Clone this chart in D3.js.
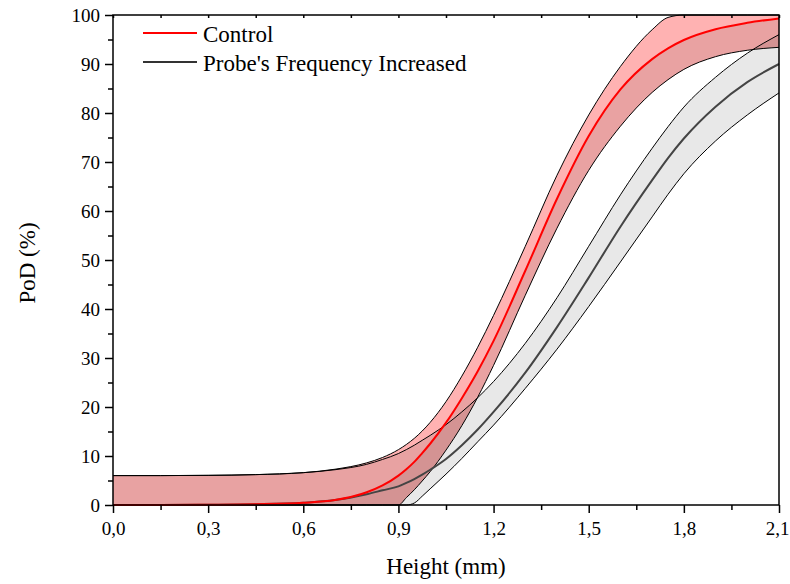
<!DOCTYPE html>
<html>
<head>
<meta charset="utf-8">
<script src="https://cdn.jsdelivr.net/npm/d3@7"></script>
<style>
  body { margin: 0; background: #fff; }
  svg text { font-family: "Liberation Serif", serif; }
</style>
</head>
<body>
<div id="chart"></div>
<script>
const FONT = "Liberation Serif";

// height grid (mm) shared by every curve
const heights = [0, 0.15, 0.3, 0.45, 0.6, 0.7, 0.8, 0.85, 0.9, 0.925, 0.95, 0.975, 1.0, 1.05, 1.1, 1.15, 1.2, 1.3, 1.4, 1.5, 1.6, 1.7, 1.75, 1.8, 1.9, 2.0, 2.1];

// Control (red)
const controlMean  = [0, 0, 0.05, 0.15, 0.45, 1.0, 2.6, 4.0, 6.0, 7.3, 8.8, 10.6, 12.5, 16.8, 21.8, 27.3, 33.5, 47.8, 62.5, 75.3, 84.8, 91.0, 93.2, 94.9, 97.1, 98.4, 99.3];
const controlUpper = [6, 6, 6.05, 6.2, 6.6, 7.3, 8.6, 9.7, 11.3, 12.35, 13.6, 15.1, 16.85, 21.1, 26.3, 32.2, 38.7, 52.8, 67.3, 79.6, 89.5, 97.0, 99.5, 100, 100, 100, 100];
const controlLower = [0, 0, 0, 0, 0, 0, 0, 0, 0, 1.5, 3.1, 4.9, 6.8, 11.2, 16.2, 22.0, 28.5, 42.8, 56.5, 68.3, 77.3, 84.2, 86.8, 88.9, 91.5, 92.8, 93.4];

// Probe's frequency increased (gray)
const probeMean  = [0, 0, 0.05, 0.15, 0.45, 1.0, 2.2, 3.0, 3.8, 4.5, 5.3, 6.2, 7.2, 9.4, 12.2, 15.4, 19.0, 27.0, 36.3, 46.4, 56.8, 66.3, 70.8, 74.8, 81.3, 86.3, 90];
const probeUpper = [6, 6, 6.05, 6.2, 6.6, 7.2, 8.3, 9.3, 10.5, 11.3, 12.2, 13.2, 14.2, 16.4, 19.0, 21.9, 25.2, 33.0, 42.3, 52.8, 63.3, 72.8, 77.2, 81.2, 87.3, 92.2, 96];
const probeLower = [0, 0, 0, 0, 0, 0, 0, 0, 0, 0, 0.4, 1.8, 3.3, 6.3, 9.5, 12.9, 16.3, 23.8, 31.8, 40.5, 49.6, 58.8, 63.4, 67.6, 74.3, 79.6, 84.1];

const xTicks = [0, 0.3, 0.6, 0.9, 1.2, 1.5, 1.8, 2.1];
const xTickLabels = ["0,0", "0,3", "0,6", "0,9", "1,2", "1,5", "1,8", "2,1"];
const yTicks = [0, 10, 20, 30, 40, 50, 60, 70, 80, 90, 100];

const width = 790, height = 584;
const margin = {top: 15, right: 11, bottom: 79, left: 113};

const x = d3.scaleLinear().domain([0, 2.1]).range([margin.left, width - margin.right]);
const y = d3.scaleLinear().domain([0, 100]).range([height - margin.bottom, margin.top]);

const svg = d3.select("#chart").append("svg")
  .attr("width", width)
  .attr("height", height)
  .attr("font-family", FONT);

const line = arr => d3.line()
  .x((d, i) => x(heights[i]))
  .y(d => y(d))
  .curve(d3.curveMonotoneX)(arr);

const band = (hi, lo) => d3.area()
  .x((d, i) => x(heights[i]))
  .y0((d, i) => y(lo[i]))
  .y1(d => y(d))
  .curve(d3.curveMonotoneX)(hi);

// fills
svg.append("path").attr("d", band(controlUpper, controlLower)).attr("fill", "rgba(255,0,0,0.3)");
svg.append("path").attr("d", band(controlMean, controlLower)).attr("fill", "rgba(0,0,0,0.085)");
svg.append("path").attr("d", band(probeUpper, probeLower)).attr("fill", "rgba(0,0,0,0.09)");

// confidence bounds
[controlUpper, controlLower, probeUpper, probeLower].forEach(arr => {
  svg.append("path")
    .attr("d", line(arr))
    .attr("fill", "none")
    .attr("stroke", "#000")
    .attr("stroke-width", 1);
});

// mean curves
svg.append("path").attr("d", line(probeMean))
  .attr("fill", "none").attr("stroke", "#444").attr("stroke-width", 2);
svg.append("path").attr("d", line(controlMean))
  .attr("fill", "none").attr("stroke", "#ff0000").attr("stroke-width", 2);

// axes
const xMinor = d3.range(0.15, 2.1, 0.3);
const yMinor = d3.range(5, 100, 10);
const plotBottom = height - margin.bottom;

const styleAxis = g => {
  g.attr("font-family", FONT);
  g.select(".domain").remove();
  g.selectAll("line").attr("stroke-width", 1.5);
  g.selectAll("text").attr("font-size", 19).attr("fill", "#000").attr("font-family", FONT);
};

svg.append("g")
  .attr("transform", `translate(0,${plotBottom})`)
  .call(d3.axisBottom(x).tickValues(xTicks).tickFormat((d, i) => xTickLabels[i]).tickSize(8).tickPadding(9))
  .call(styleAxis)
  // last label sits against the right edge of the page
  .call(g => g.selectAll(".tick:last-of-type text").attr("text-anchor", "end").attr("x", 10));

svg.append("g")
  .attr("transform", `translate(0,${plotBottom})`)
  .call(d3.axisBottom(x).tickValues(xMinor).tickFormat("").tickSize(5))
  .call(styleAxis);

svg.append("g")
  .attr("transform", `translate(0,${margin.top})`)
  .call(d3.axisTop(x).tickValues(xTicks.concat(xMinor)).tickFormat("").tickSize(-3))
  .call(styleAxis);

svg.append("g")
  .attr("transform", `translate(${margin.left},0)`)
  .call(d3.axisLeft(y).tickValues(yTicks).tickSize(8).tickPadding(5))
  .call(styleAxis);

svg.append("g")
  .attr("transform", `translate(${margin.left},0)`)
  .call(d3.axisLeft(y).tickValues(yMinor).tickFormat("").tickSize(5))
  .call(styleAxis);

// frame
svg.append("rect")
  .attr("x", margin.left)
  .attr("y", margin.top)
  .attr("width", width - margin.left - margin.right)
  .attr("height", height - margin.top - margin.bottom)
  .attr("fill", "none")
  .attr("stroke", "#000")
  .attr("stroke-width", 1.5);

// axis titles
svg.append("text")
  .attr("x", (margin.left + width - margin.right) / 2)
  .attr("y", 574)
  .attr("text-anchor", "middle")
  .attr("font-family", FONT)
  .attr("font-size", 23)
  .text("Height (mm)");

svg.append("text")
  .attr("transform", `translate(35,263) rotate(-90)`)
  .attr("text-anchor", "middle")
  .attr("font-family", FONT)
  .attr("font-size", 23)
  .text("PoD (%)");

// legend
const legend = [
  {label: "Control", color: "#ff0000"},
  {label: "Probe's Frequency Increased", color: "#333"}
];
const lg = svg.append("g");
legend.forEach((d, i) => {
  const ly = 33 + i * 29;
  lg.append("line")
    .attr("x1", 143).attr("x2", 197)
    .attr("y1", ly).attr("y2", ly)
    .attr("stroke", d.color).attr("stroke-width", 2);
  lg.append("text")
    .attr("x", 203).attr("y", ly + 8.5)
    .attr("font-family", FONT)
    .attr("font-size", 23)
    .text(d.label);
});
</script>
</body>
</html>
